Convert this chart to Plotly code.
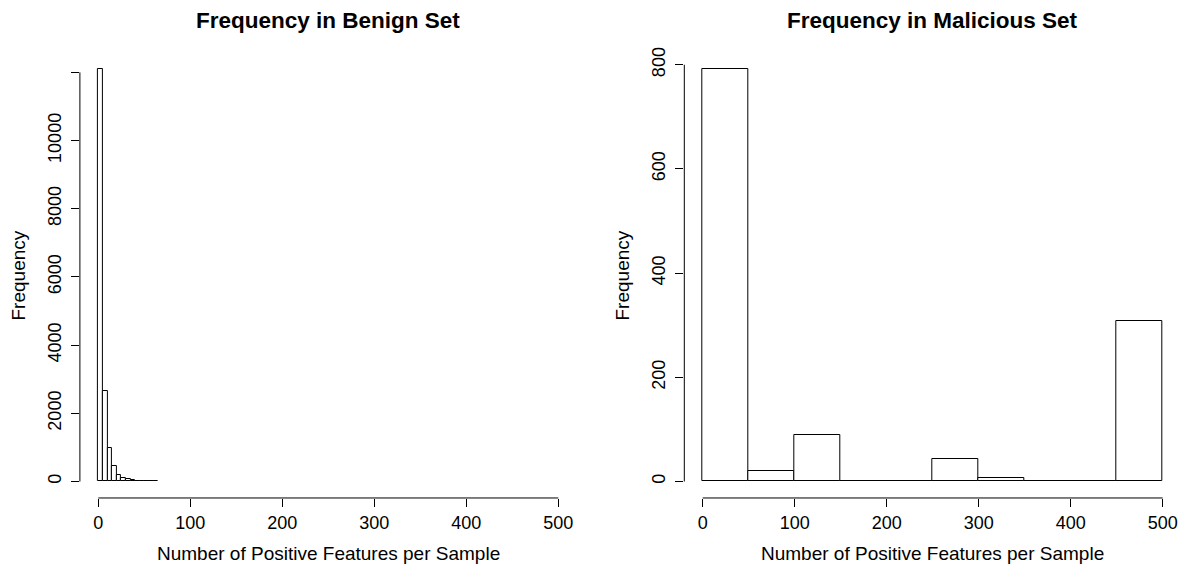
import plotly.graph_objects as go

# ---- data ----
benign_bin_starts = [0, 5, 10, 15, 20, 25, 30, 35, 40, 45, 50, 55, 60]
benign_bin_width = 5
benign_counts = [12085, 2656, 978, 460, 187, 108, 59, 41, 15, 10, 6, 4, 2]

malicious_bin_starts = [0, 50, 100, 150, 200, 250, 300, 350, 400, 450]
malicious_bin_width = 50
malicious_counts = [791, 20, 90, 0, 0, 43, 7, 0, 0, 309]

x_ticks = [0, 100, 200, 300, 400, 500]
benign_y_ticks = [0, 2000, 4000, 6000, 8000, 10000, 12000]
benign_y_ticktext = ["0", "2000", "4000", "6000", "8000", "10000", ""]
malicious_y_ticks = [0, 200, 400, 600, 800]

title_left = "Frequency in Benign Set"
title_right = "Frequency in Malicious Set"
x_title = "Number of Positive Features per Sample"
y_title = "Frequency"

W, H = 1187, 571
FONT = "Liberation Sans, Arial, Helvetica, sans-serif"
TICKFONT = dict(family=FONT, size=18, color="black")

fig = go.Figure()

fig.add_trace(go.Bar(
    x=[s + benign_bin_width / 2 for s in benign_bin_starts],
    y=benign_counts, width=benign_bin_width,
    marker=dict(color="white", line=dict(color="black", width=1)),
    xaxis="x", yaxis="y", showlegend=False, hoverinfo="x+y"))

fig.add_trace(go.Bar(
    x=[s + malicious_bin_width / 2 for s in malicious_bin_starts],
    y=malicious_counts, width=malicious_bin_width,
    marker=dict(color="white", line=dict(color="black", width=1)),
    xaxis="x2", yaxis="y2", showlegend=False, hoverinfo="x+y"))

ydom = [1 - 497.2 / H, 1 - 47.5 / H]
xdom1 = [79.9 / W, 576.7 / W]
xdom2 = [684.3 / W, 1181.1 / W]

def xax(domain, anchor):
    return dict(domain=domain, anchor=anchor, range=[-20, 520],
                tickvals=x_ticks, ticks="outside", ticklen=8, tickwidth=1,
                tickcolor="black", showline=False, showgrid=False,
                zeroline=False, tickfont=TICKFONT, fixedrange=True)

def yax(anchor, rng, tv, tt):
    return dict(domain=ydom, anchor=anchor, range=rng,
                tickvals=tv, ticktext=tt, ticks="outside", ticklen=8,
                tickwidth=1, tickcolor="black", showline=False,
                showgrid=False, zeroline=False, tickangle=-90,
                ticklabelstandoff=3,
                tickfont=TICKFONT, fixedrange=True)

b_top = max(benign_counts)
m_top = max(malicious_counts)
fig.update_layout(
    width=W, height=H, autosize=False,
    margin=dict(l=0, r=0, t=0, b=0),
    paper_bgcolor="white", plot_bgcolor="white",
    bargap=0,
    xaxis=xax(xdom1, "y"),
    yaxis=yax("x", [-0.04 * b_top, 1.04 * b_top], benign_y_ticks, benign_y_ticktext),
    xaxis2=xax(xdom2, "y2"),
    yaxis2=yax("x2", [-0.04 * m_top, 1.04 * m_top], malicious_y_ticks,
               [str(v) for v in malicious_y_ticks]),
    font=dict(family=FONT, color="black"),
)

# axis lines spanning only the tick range (R style)
line = dict(color="black", width=1)
fig.add_shape(type="line", xref="x", yref="y domain", x0=0, x1=500, y0=0, y1=0, line=line)
fig.add_shape(type="line", xref="x domain", yref="y", x0=0, x1=0, y0=0, y1=12000, line=line)
fig.add_shape(type="line", xref="x2", yref="y2 domain", x0=0, x1=500, y0=0, y1=0, line=line)
fig.add_shape(type="line", xref="x2 domain", yref="y2", x0=0, x1=0, y0=0, y1=800, line=line)

cx1 = (xdom1[0] + xdom1[1]) / 2
cx2 = (xdom2[0] + xdom2[1]) / 2
cy = (ydom[0] + ydom[1]) / 2
TFONT = dict(family=FONT, size=19, color="black")
ann = [
    dict(text="<b>%s</b>" % title_left, x=cx1, y=1 - 15 / H, font=dict(family=FONT, size=22.5, color="black")),
    dict(text="<b>%s</b>" % title_right, x=cx2, y=1 - 15 / H, font=dict(family=FONT, size=22.5, color="black")),
    dict(text=x_title, x=cx1, y=1 - 553 / H, font=TFONT),
    dict(text=x_title, x=cx2, y=1 - 553 / H, font=TFONT),
    dict(text=y_title, x=18 / W, y=cy, textangle=-90, font=TFONT),
    dict(text=y_title, x=622 / W, y=cy, textangle=-90, font=TFONT),
]
for a in ann:
    a.update(xref="paper", yref="paper", showarrow=False, xanchor="center", yanchor="middle")
fig.update_layout(annotations=ann)

fig.write_html("out.html", config={"displayModeBar": False},
               post_script="document.body.style.margin='0';document.body.style.overflow='hidden';")
